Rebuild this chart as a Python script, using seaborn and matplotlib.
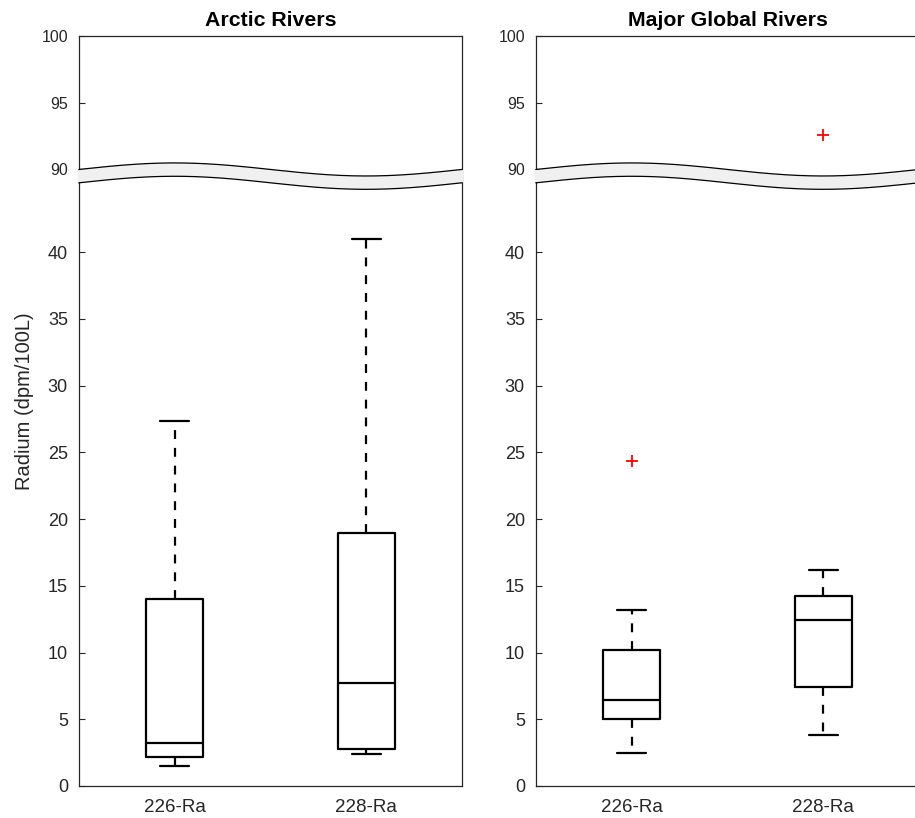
import numpy as np
import pandas as pd
import matplotlib
matplotlib.use("Agg")
import matplotlib.pyplot as plt
from matplotlib.patches import Polygon
from matplotlib.lines import Line2D
import seaborn as sns

# data
panels = ["Arctic Rivers", "Major Global Rivers"]
isotopes = ["226-Ra", "228-Ra"]

# lower whisker, Q1, median, Q3, upper whisker (dpm/100L)
arctic_226 = [1.5, 2.2, 3.2, 14.05, 27.35]
arctic_228 = [2.4, 2.8, 7.7, 18.95, 41.0]
global_226 = [2.5, 5.0, 6.45, 10.2, 13.2]
global_228 = [3.8, 7.4, 12.45, 14.25, 16.2]

# red "+" outliers
arctic_226_out = []
arctic_228_out = []
global_226_out = [24.35]
global_228_out = [92.6]

ytick_low = [0, 5, 10, 15, 20, 25, 30, 35, 40]
ytick_high = [90, 95, 100]

# axis break: 0-45 shown, then jump to 90-100
LOW_TOP, GAP, HIGH_BOT, Y_TOP = 45.0, 1.2, 90.0, 100.0


def sample(five, out):
    # repeats the read values so matplotlib's quartiles land on them
    lo, q1, med, q3, hi = five
    return [lo, q1, q1, med, med, q3, q3, hi] + list(out)


def fwd(y):
    y = np.asarray(y, dtype=float)
    return np.where(y <= LOW_TOP, y,
                    np.where(y >= HIGH_BOT, y - HIGH_BOT + LOW_TOP + GAP,
                             LOW_TOP + (y - LOW_TOP) * GAP / (HIGH_BOT - LOW_TOP)))


def inv(m):
    m = np.asarray(m, dtype=float)
    return np.where(m <= LOW_TOP, m,
                    np.where(m >= LOW_TOP + GAP, m - LOW_TOP - GAP + HIGH_BOT,
                             LOW_TOP + (m - LOW_TOP) * (HIGH_BOT - LOW_TOP) / GAP))


rows = []
for panel, (s226, o226, s228, o228) in zip(panels, [
        (arctic_226, arctic_226_out, arctic_228, arctic_228_out),
        (global_226, global_226_out, global_228, global_228_out)]):
    for iso, five, out in [(isotopes[0], s226, o226), (isotopes[1], s228, o228)]:
        for v in sample(five, out):
            rows.append({"panel": panel, "isotope": iso, "value": v})
df = pd.DataFrame(rows)

sns.set_theme(style="white")
plt.rcParams["font.family"] = ["Liberation Sans", "DejaVu Sans"]
text_col = "#262626"

fig = plt.figure(figsize=(9.15, 8.18), dpi=100)
W, H = 915, 818
ax_w, ax_top, ax_bot = 383, 36, 786
lefts = [79, 536]

for i, panel in enumerate(panels):
    ax = fig.add_axes([lefts[i] / W, (H - ax_bot) / H, ax_w / W, (ax_bot - ax_top) / H])
    sub = df[df["panel"] == panel]
    sns.boxplot(data=sub, x="isotope", y="value", order=isotopes, ax=ax,
                width=0.3, fill=False, color="black", linewidth=1.6,
                whiskerprops=dict(linestyle=(0, (4, 4))),
                flierprops=dict(marker="+", markersize=9, markeredgewidth=1.3,
                                markeredgecolor="red", markerfacecolor="red"))
    for ln in ax.lines:
        if ln.get_marker() == "+":
            ln.set_markeredgecolor("red")

    ax.set_yscale("function", functions=(fwd, inv))
    ax.set_ylim(0, Y_TOP)
    ax.set_xlim(-0.5, 1.5)
    ax.set_yticks(ytick_low + ytick_high)
    ax.set_yticklabels([str(t) for t in ytick_low + ytick_high])
    for lab, t in zip(ax.get_yticklabels(), ytick_low + ytick_high):
        lab.set_fontsize(11.5 if t >= HIGH_BOT else 13)
    ax.tick_params(axis="y", direction="in", length=4, width=0.8, left=True,
                   colors=text_col, pad=8)
    ax.tick_params(axis="x", length=0, labelsize=13.5, labelcolor=text_col, pad=9)
    for sp in ax.spines.values():
        sp.set_visible(True)
        sp.set_color(text_col)
        sp.set_linewidth(0.9)
    ax.set_xlabel("")
    if i == 0:
        ax.set_ylabel("Radium (dpm/100L)", fontsize=14.5, color=text_col)
        ax.yaxis.set_label_coords(-0.118, 0.513)
    else:
        ax.set_ylabel("")
    ax.set_title(panel, fontsize=15.3, fontweight="bold", color="black", pad=7)

    # wavy break band across the axis
    span = float(fwd(Y_TOP))
    c = float(fwd(HIGH_BOT)) / span
    thick = (float(fwd(HIGH_BOT)) - LOW_TOP - 0.2) / span
    amp = 0.0087
    xs = np.linspace(-0.004, 1.004, 300)
    top = c + amp * np.sin(2 * np.pi * xs)
    bot = top - thick
    poly = Polygon(np.column_stack([np.r_[xs, xs[::-1]], np.r_[top, bot[::-1]]]),
                   closed=True, facecolor="#f0f0f0", edgecolor="none",
                   transform=ax.transAxes, clip_on=False, zorder=5)
    ax.add_patch(poly)
    for yy in (top, bot):
        ax.add_line(Line2D(xs[1:-1], yy[1:-1], color="black", lw=0.9,
                           transform=ax.transAxes, clip_on=False, zorder=6))

fig.savefig("out.png", dpi=100)
